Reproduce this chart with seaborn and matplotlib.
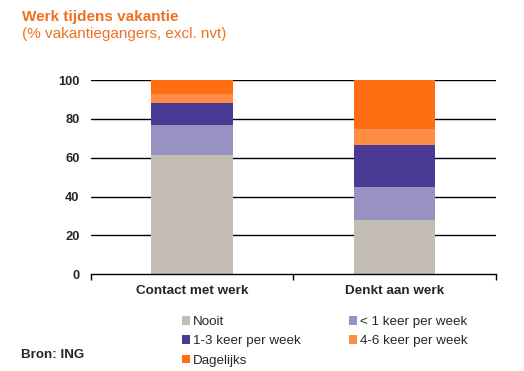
import matplotlib
matplotlib.use("Agg")
import matplotlib.pyplot as plt
import seaborn as sns
import numpy as np
import pandas as pd
from matplotlib.patches import Patch

categories = ["Contact met werk", "Denkt aan werk"]
series_names = ["Nooit", "< 1 keer per week", "1-3 keer per week", "4-6 keer per week", "Dagelijks"]
nooit = [61.5, 28.0]
minder_1 = [15.3, 17.0]
keer_1_3 = [11.6, 21.7]
keer_4_6 = [4.7, 8.3]
dagelijks = [6.9, 25.0]
y_ticks = [0, 20, 40, 60, 80, 100]

colors = ["#C4BDB4", "#9A91C3", "#4B3A93", "#FF8D45", "#FF6E12"]

sns.set_theme(style="white")
plt.rcParams["font.family"] = ["Liberation Sans", "DejaVu Sans"]

fig = plt.figure(figsize=(5.24, 3.71), dpi=100)
ax = fig.add_axes([0.173, 0.261, 0.774, 0.523])

values = [nooit, minder_1, keer_1_3, keer_4_6, dagelijks]
cum = np.cumsum(np.array(values), axis=0)
for i in range(len(values) - 1, -1, -1):
    df = pd.DataFrame({"cat": categories, "val": cum[i]})
    sns.barplot(data=df, x="cat", y="val", color=colors[i], width=0.4,
                saturation=1, linewidth=0, edgecolor="none", ax=ax, zorder=3)

ax.set_xlim(-0.5, 1.5)
ax.set_ylim(0, 100)
ax.set_yticks(y_ticks)
ax.set_yticklabels([str(v) for v in y_ticks], fontsize=9.3, fontweight="bold")
for v in y_ticks[1:]:
    ax.axhline(v, color="black", lw=1, zorder=1)
ax.set_xlabel("")
ax.set_ylabel("")
ax.set_xticks([0, 1])
ax.set_xticklabels(categories, fontsize=9.7, fontweight="bold")
ax.set_xticks([-0.5, 0.5, 1.5], minor=True)
ax.tick_params(axis="x", which="major", length=0, pad=8)
ax.tick_params(axis="x", which="minor", length=4, width=1, color="black", direction="out", bottom=True)
ax.tick_params(axis="y", length=0, pad=8)
for s in ["top", "right", "left"]:
    ax.spines[s].set_visible(False)
ax.spines["bottom"].set_color("black")
ax.spines["bottom"].set_linewidth(1)
ax.spines["bottom"].set_zorder(4)

order = [0, 2, 4, 1, 3]
handles = [Patch(facecolor=colors[i], edgecolor="none", label=series_names[i]) for i in order]
fig.legend(handles=handles, ncol=2, loc="upper left", bbox_to_anchor=(0.347, 0.148),
           frameon=False, fontsize=9.6, handlelength=0.6, handleheight=0.6,
           handletextpad=0.25, columnspacing=3.6, labelspacing=0.55, borderaxespad=0,
           borderpad=0)

fig.text(0.042, 0.955, "Werk tijdens vakantie", color="#F07020", fontsize=11,
         fontweight="bold", ha="left", va="center")
fig.text(0.042, 0.908, "(% vakantiegangers, excl. nvt)", color="#F07020", fontsize=11,
         ha="left", va="center")
fig.text(0.04, 0.043, "Bron: ING", fontsize=9.6, fontweight="bold", ha="left", va="center")

fig.savefig("out.png", dpi=100)
